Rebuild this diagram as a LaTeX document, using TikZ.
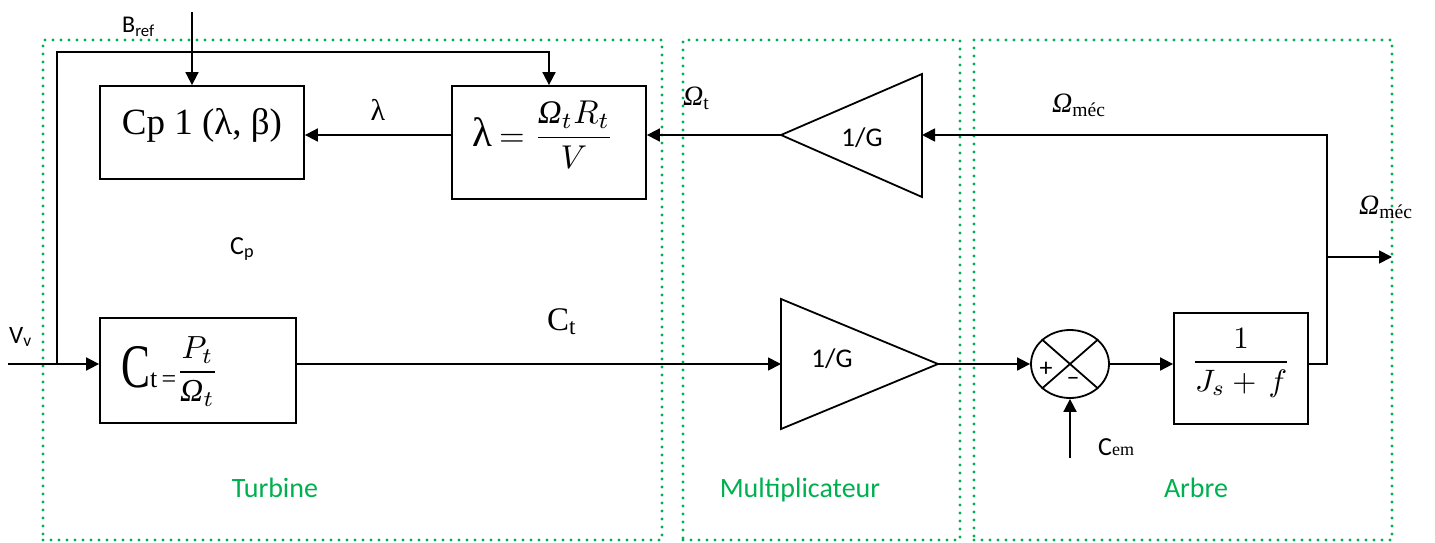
\RequirePackage{fix-cm}
\documentclass[tikz,border=0pt]{standalone}
\usepackage{amsmath}
\usepackage{graphicx}
\usepackage{fontspec}
\setmainfont{Liberation Serif}
\newfontfamily\carl{Carlito}
\usetikzlibrary{arrows.meta,shapes.geometric,calc}
\definecolor{wgreen}{RGB}{0,176,80}
\newcommand{\fs}[1]{\fontsize{#1}{#1}\selectfont}
\newcommand{\Om}{\textit{Ω}}
\begin{document}
\begin{tikzpicture}[x=1pt,y=-1pt,
  blk/.style={draw, line width=1.8pt, inner sep=0pt},
  ln/.style={line width=1.8pt},
  arr/.style={line width=1.8pt, -{Triangle[length=13pt,width=13pt]}},
  gbox/.style={draw=wgreen, line width=3.3pt, line cap=round, dash pattern=on 0pt off 8pt, inner sep=0pt},
  glab/.style={font=\carl\fs{28}, text=wgreen, anchor=base, inner sep=0pt},
  clab/.style={font=\carl\fs{25}, anchor=base west, inner sep=0pt},
  slab/.style={font=\fs{28}, anchor=base west, inner sep=0pt}
]
\useasboundingbox (0,0) rectangle (1435,543);
% green frames
\node[gbox, minimum width=619pt, minimum height=500pt] (turbine) at (352.5,290) {};
\node[gbox, minimum width=277pt, minimum height=500pt] (multi) at (821.5,290) {};
\node[gbox, minimum width=418pt, minimum height=500pt] (arbre) at (1183,290) {};
\node[glab] (tlab) at (275,497) {Turbine};
\node[glab] (mlab) at (800,497) {Multiplicateur};
\node[glab] (alab) at (1196,497) {Arbre};
% blocks
\node[blk, minimum width=204pt, minimum height=93pt, font=\fs{37}, text height=24pt, text depth=21pt] (cp) at (202,132.5) {Cp 1 (λ, β)};
\node[blk, minimum width=194pt, minimum height=113pt] (lam) at (549,142.5) {};
\node[anchor=base west, inner sep=0pt] (lamtxt) at (472,146) {{\fs{41}λ}\hspace{7pt}\scalebox{3.3}{$=\dfrac{\Om_t R_t}{V}$}};
\node[blk, minimum width=196pt, minimum height=105pt] (ct) at (198,370.5) {};
\node[anchor=base west, inner sep=0pt] (cttxt) at (121,387) {\scalebox{0.7}[1]{\fs{62}C}{\fs{26}t\,=}\raisebox{7pt}{\scalebox{3.2}{$\dfrac{P_t}{\Om_t}$}}};
\node[blk, minimum width=134pt, minimum height=111pt] (tf) at (1241,368.5) {};
\node[inner sep=0pt] (tftxt) at (1241,363) {\scalebox{3.1}{$\dfrac{1}{J_s+\,f}$}};
\node[draw, ellipse, line width=1.8pt, minimum width=78pt, minimum height=68pt, inner sep=0pt] (sum) at (1070,364) {};
\draw[ln] (sum.north west) -- (sum.south east);
\draw[ln] (sum.north east) -- (sum.south west);
\node[font=\carl\fs{26}, inner sep=0pt] (plus) at (1046,369) {+};
\node[font=\carl\fs{26}, inner sep=0pt] (minus) at (1073,381) {–};
% triangles
\coordinate (g1a) at (781,135);
\coordinate (g1b) at (922,74);
\coordinate (g1c) at (922,197);
\coordinate (g1r) at (922,135);
\draw[ln, line join=miter] (g1a) -- (g1b) -- (g1c) -- cycle;
\node[font=\carl\fs{27}, anchor=base, inner sep=0pt] (g1txt) at (862,146) {1/G};
\coordinate (g2a) at (781,299);
\coordinate (g2b) at (781,429);
\coordinate (g2tip) at (938,364);
\coordinate (g2l) at (781,364);
\draw[ln, line join=miter] (g2a) -- (g2b) -- (g2tip) -- cycle;
\node[font=\carl\fs{27}, anchor=base, inner sep=0pt] (g2txt) at (832,367) {1/G};
% connectors
\coordinate (vin) at (8,364);
\coordinate (j1) at (57,364);
\coordinate (top) at (57,52);
\coordinate (bref) at (192,12);
\draw[arr] (vin) -- (vin -| ct.west);
\draw[arr] (j1) -- (top) -| (lam.north);
\draw[arr] (bref) -- (bref |- cp.north);
\draw[arr] (g1a) -- (g1a -| lam.east);
\draw[arr] (g1a -| lam.west) -- (g1a -| cp.east);
\coordinate (fb) at (1327,135);
\coordinate (br) at (1327,257);
\coordinate (omout) at (1392,257);
\draw[arr] (sum -| tf.east) -| (fb) -- (g1r);
\draw[arr] (br) -- (omout);
\draw[arr] (sum -| ct.east) -- (g2l);
\draw[arr] (g2tip) -- (sum.west);
\draw[arr] (sum.east) -- (sum -| tf.west);
\coordinate (cem) at (1070,458);
\draw[arr] (cem) -- (sum.south);
% labels
\node[clab, font=\carl\fs{24}] (breflab) at (122,33) {B\textsubscript{ref}};
\node[clab] (vvlab) at (9,343) {V\textsubscript{v}};
\node[clab, font=\carl\fs{26}] (cplab) at (230,254) {C\textsubscript{p}};
\node[slab, font=\fs{33}] (ctlab) at (547,330) {C\textsubscript{t}};
\node[font=\fs{30}, inner sep=0pt] (lamlab) at (378,110) {λ};
\node[slab] (omtlab) at (683,105) {\Om\textsubscript{t}};
\node[slab] (omm1) at (1052,112) {\Om\textsubscript{méc}};
\node[slab] (omm2) at (1359,214) {\Om\textsubscript{méc}};
\node[anchor=base west, inner sep=0pt] (cemlab) at (1098,455) {{\carl\fs{26}C}{\fs{18}em}};
\end{tikzpicture}
\end{document}
